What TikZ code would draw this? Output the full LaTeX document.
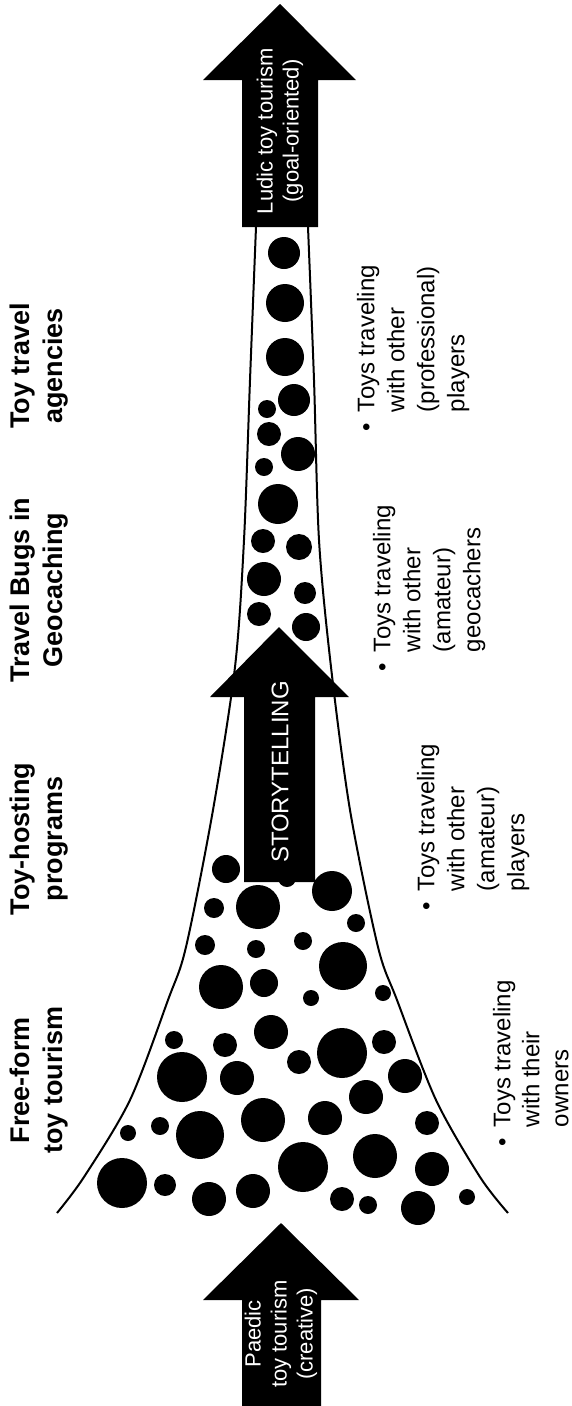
\documentclass[tikz,border=0pt]{standalone}
\usepackage{fontspec}
\setmainfont{Liberation Sans}
\begin{document}
\begin{tikzpicture}[x=1pt,y=-1pt,line width=2pt]
  \tikzstyle{stage}=[rotate=90, anchor=north, inner sep=0pt, align=center,
    font=\fontsize{27}{33}\selectfont\bfseries]
  \tikzstyle{players}=[rotate=90, anchor=north west, inner sep=0pt, align=left,
    font=\fontsize{24}{30}\selectfont]
  \tikzstyle{flow}=[rotate=90, inner sep=0pt, align=center, text=white,
    font=\fontsize{22}{26}\selectfont]
  \tikzstyle{toy}=[fill=black]

  \useasboundingbox (0,0) rectangle (572,1406);

  % funnel walls
  \draw plot[smooth] coordinates {(256,227) (250,380) (244,540) (235,667) (213,810)
    (186,947) (168,1000) (130,1100) (84,1177) (57,1213)};
  \draw plot[smooth] coordinates {(308,227) (314,380) (319,540) (331,667) (350,810)
    (378,947) (397,1000) (436,1100) (480,1177) (508,1213)};

  % toys
  \foreach \x/\y/\r in {284/253/16, 285/303/19, 285/357/19, 294/400/16, 267/409/9,
      269/434/12, 298/454/17, 264/467/9, 278/504/20, 263/541/12, 299/547/13,
      264/579/17, 305/593/11, 259/614/12, 306/627/14,
      226/869/14, 287/878/9, 332/891/20, 214/908/10, 258/907/22, 356/923/9,
      205/945/10, 256/949/9, 303/941/9, 343/966/24, 221/987/22, 264/983/14,
      383/993/8, 311/998/8, 174/1040/9, 225/1045/12, 271/1032/17, 299/1062/12,
      342/1053/25, 384/1042/12, 182/1077/25, 237/1078/17, 366/1097/17, 405/1076/17,
      128/1133/8, 160/1126/9, 200/1135/24, 263/1120/22, 325/1118/17, 427/1123/12,
      122/1183/25, 165/1185/11, 209/1199/17, 253/1191/17, 303/1167/25, 375/1156/22,
      342/1199/12, 368/1205/9, 418/1208/17, 432/1169/17, 467/1197/8}
    \fill[toy] (\x,\y) circle (\r);

  % arrows
  \fill (242,227) -- (242,80) -- (203,80) -- (280,4) -- (356,80) -- (318,80) -- (318,227) -- cycle;
  \fill (244,882) -- (244,697) -- (210,697) -- (279,627) -- (349,697) -- (315,697) -- (315,882) -- cycle;
  \fill (242,1406) -- (242,1300) -- (203,1300) -- (281,1223) -- (359,1300) -- (321,1300) -- (321,1406) -- cycle;

  \node[flow] (ludic) at (280,131) {Ludic toy tourism\\(goal-oriented)};
  \node[flow, font=\fontsize{24}{28}\selectfont] (story) at (280,772) {STORYTELLING};
  \node[flow] (paedic) at (281,1334) {Paedic\\toy tourism\\(creative)};

  % stages
  \node[stage] (agencies) at (9,366) {Toy travel\\agencies};
  \node[stage] (bugs) at (9,590) {Travel Bugs in\\Geocaching};
  \node[stage] (hosting) at (9,839) {Toy-hosting\\programs};
  \node[stage] (freeform) at (9,1080) {Free-form\\toy tourism};

  % players
  \node[players] (pros) at (356,413) {\llap{\textbullet\hspace{11pt}}Toys traveling\\with other\\(professional)\\players};
  \node[players] (geocachers) at (372,653) {\llap{\textbullet\hspace{11pt}}Toys traveling\\with other\\(amateur)\\geocachers};
  \node[players] (amateurs) at (416,892) {\llap{\textbullet\hspace{11pt}}Toys traveling\\with other\\(amateur)\\players};
  \node[players, font=\fontsize{24}{29}\selectfont] (owners) at (492,1128) {\llap{\textbullet\hspace{11pt}}Toys traveling\\with their\\owners};
\end{tikzpicture}
\end{document}
